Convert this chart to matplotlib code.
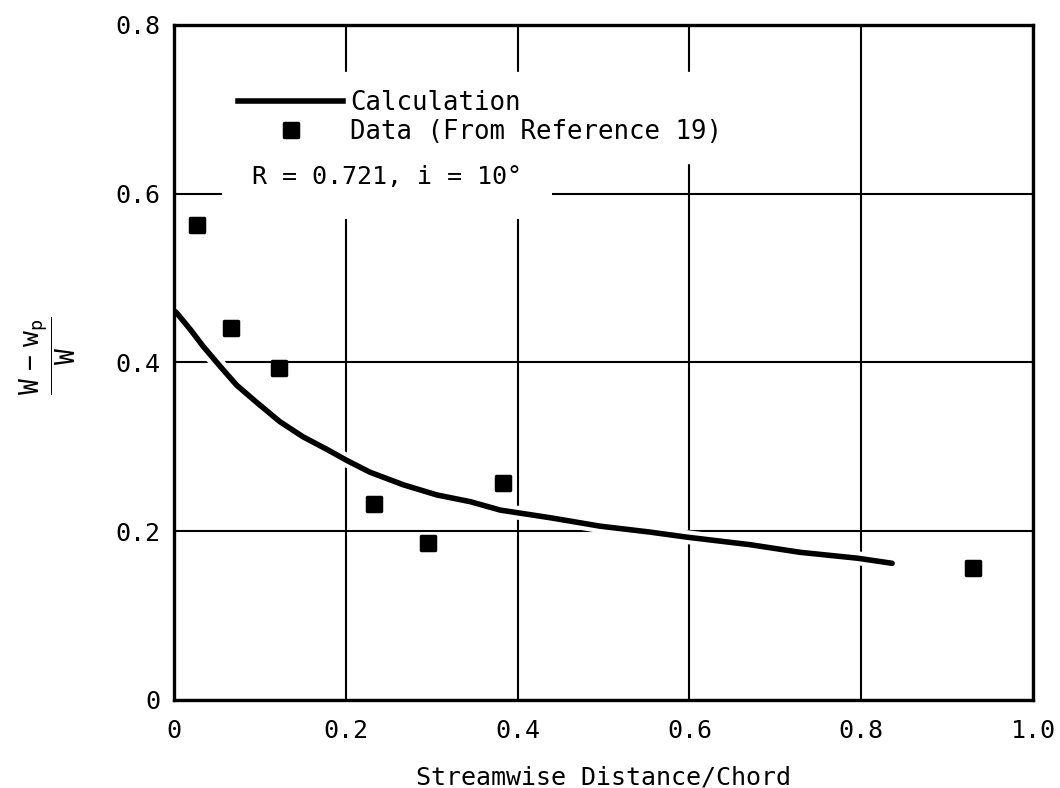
import matplotlib
matplotlib.use("Agg")
import matplotlib.pyplot as plt
import matplotlib.patheffects as pe
from matplotlib.lines import Line2D
from matplotlib.markers import MarkerStyle

# --- Data ---
calc_x = [0.002, 0.019, 0.034, 0.054, 0.073, 0.097, 0.123, 0.150, 0.178,
          0.201, 0.228, 0.267, 0.306, 0.345, 0.380, 0.438, 0.496, 0.554,
          0.597, 0.671, 0.729, 0.796, 0.836]
calc_y = [0.460, 0.439, 0.419, 0.395, 0.373, 0.352, 0.330, 0.312, 0.297,
          0.284, 0.270, 0.255, 0.243, 0.235, 0.225, 0.216, 0.206, 0.199,
          0.193, 0.184, 0.175, 0.168, 0.162]

data_x = [0.027, 0.066, 0.122, 0.233, 0.296, 0.383, 0.930]
data_y = [0.563, 0.441, 0.393, 0.232, 0.186, 0.257, 0.156]

x_ticks = [0.0, 0.2, 0.4, 0.6, 0.8, 1.0]
x_ticklabels = ['0', '0.2', '0.4', '0.6', '0.8', '1.0']
y_ticks = [0.0, 0.2, 0.4, 0.6, 0.8]
y_ticklabels = ['0', '0.2', '0.4', '0.6', '0.8']

# --- Style ---
FONT = 'DejaVu Sans Mono'
plt.rcParams['font.family'] = FONT
plt.rcParams['mathtext.fontset'] = 'custom'
plt.rcParams['mathtext.rm'] = FONT
plt.rcParams['mathtext.it'] = FONT

fig = plt.figure(figsize=(10.6, 7.88), dpi=100)
ax = fig.add_axes([0.1642, 0.1117, 0.8103, 0.8566])

ax.set_xlim(0, 1.0)
ax.set_ylim(0, 0.8)
ax.set_xticks(x_ticks)
ax.set_xticklabels(x_ticklabels)
ax.set_yticks(y_ticks)
ax.set_yticklabels(y_ticklabels)
ax.tick_params(length=0, labelsize=18)
ax.tick_params(axis='x', pad=14)
ax.tick_params(axis='y', pad=10)

ax.grid(True, color='black', linewidth=1.5)
ax.set_axisbelow(True)
for s in ax.spines.values():
    s.set_linewidth(2.4)
    s.set_zorder(6)

# white halo so gridlines break around the curve, as in the scan
white_edge = [pe.Stroke(linewidth=10, foreground='white'), pe.Normal()]

ax.plot(calc_x, calc_y, color='black', linewidth=4.0, solid_capstyle='round',
        solid_joinstyle='round', path_effects=white_edge, zorder=3)

sq = MarkerStyle('s', joinstyle='round')
ax.plot(data_x, data_y, linestyle='none', marker=sq, markersize=10,
        markerfacecolor='black', markeredgecolor='black', markeredgewidth=2.5,
        zorder=4)

# --- Legend ---
handles = [
    Line2D([], [], color='black', linewidth=4.0),
    Line2D([], [], linestyle='none', marker=sq, markersize=10,
           markerfacecolor='black', markeredgecolor='black', markeredgewidth=2.5),
]
leg = ax.legend(handles, ['Calculation', 'Data (From Reference 19)'],
                loc='upper left', bbox_to_anchor=(0.0536, 0.93),
                borderaxespad=0, borderpad=0.7, handlelength=4.1,
                handletextpad=0.25, labelspacing=0.12, fontsize=18.5,
                frameon=True, fancybox=False)
leg.get_frame().set_facecolor('white')
leg.get_frame().set_edgecolor('white')
leg.get_frame().set_alpha(1)

ax.text(0.0908, 0.775, 'R = 0.721, i = 10°', transform=ax.transAxes,
        ha='left', va='center', fontsize=18, zorder=5,
        bbox=dict(boxstyle='square,pad=1.2', facecolor='white', edgecolor='none'))

ax.set_xlabel('Streamwise Distance/Chord', fontsize=18)
ax.xaxis.set_label_coords(0.5, -0.097)

ax.set_ylabel(r'$\dfrac{\mathrm{W\ -\ w_p}}{\mathrm{W}}$', fontsize=19, rotation=90)
ax.yaxis.set_label_coords(-0.112, 0.51)

fig.savefig('out.png', dpi=100)
